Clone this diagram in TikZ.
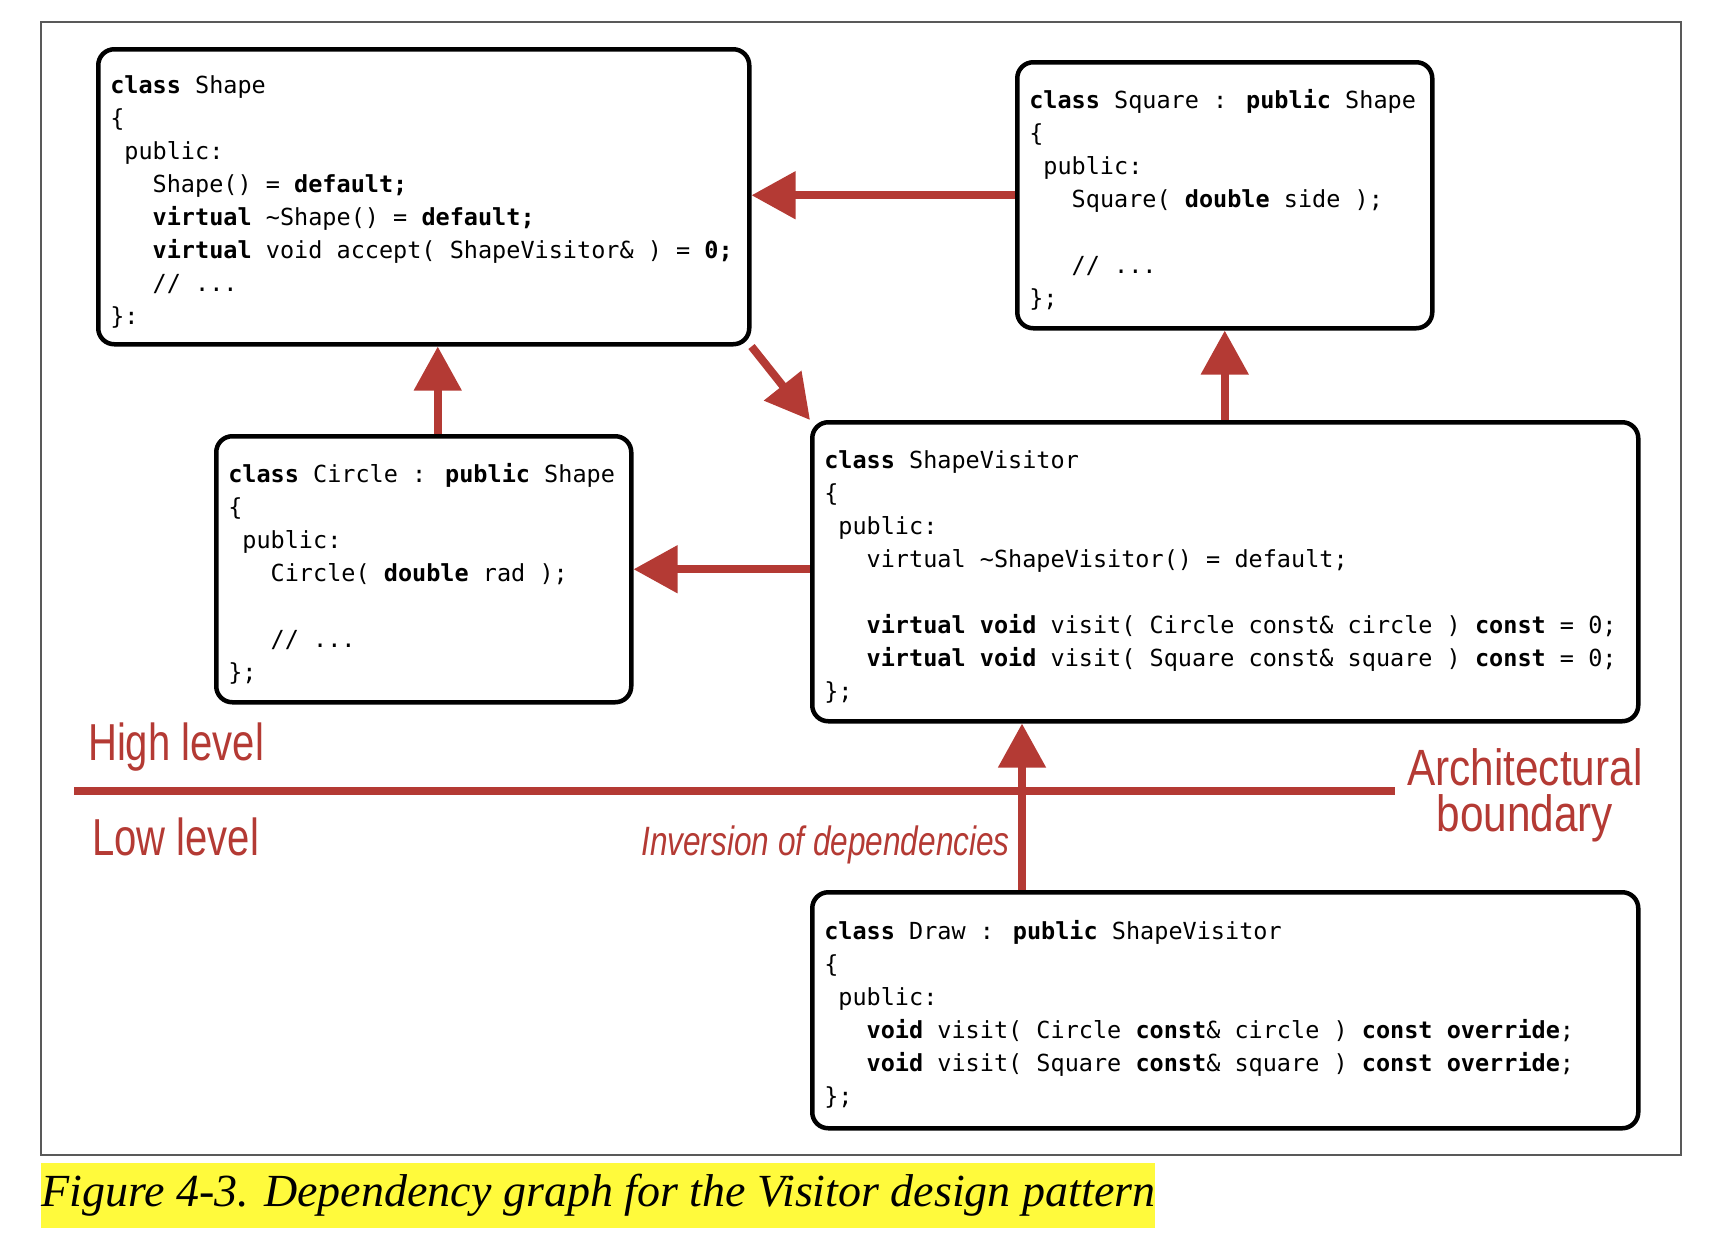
\documentclass[tikz,border=0pt]{standalone}
\usepackage{fontspec}
\usepackage{tikz}
\usetikzlibrary{arrows.meta}

\newfontfamily\codefont{DejaVu Sans Mono}
\newfontfamily\lblfont[FakeStretch=0.77]{Liberation Sans}
\newfontfamily\archfont[FakeStretch=0.83]{Liberation Sans}
\newfontfamily\capfont{Liberation Serif}

\definecolor{boundred}{RGB}{180,58,52}
\definecolor{capyellow}{RGB}{255,250,60}

% indent by n characters of the code font
\newcommand{\codeind}[1]{\hspace*{#1\fontcharwd\font`x}}
\newcommand{\kw}[1]{\textbf{#1}}

\tikzset{
  classbox/.style={draw, line width=4.5pt, rounded corners=16pt, anchor=north west,
    align=left, inner xsep=12pt, inner ysep=0pt,
    font=\codefont\fontsize{23.5}{33}\selectfont,
    % align=left sets a narrow \spaceskip: go back to the font's own space
    % (the strut pushes the code a little down in its box)
    execute at begin node={\spaceskip=0pt\xspaceskip=0pt\relax\rule{0pt}{28pt}}},
  dep/.style={draw=boundred, line width=8pt, -{Triangle[length=44pt,width=46pt]}},
  lbl/.style={text=boundred, font=\lblfont\fontsize{52}{44}\selectfont, inner sep=4pt},
}

\begin{document}
\begin{tikzpicture}[x=1pt, y=-1pt]
    % pixel coordinates, y going down
    \useasboundingbox (0,0) rectangle (1732,1250);
    \draw[black!65, line width=1.5pt] (41,22) rectangle (1681,1155);
    %
    \node[classbox, minimum height=295pt, text width=627pt] (shape) at (96,47) {%
      \kw{class} Shape\\
      \{\\
      \codeind{1}public:\\
      \codeind{3}Shape() = \kw{default;}\\
      \codeind{3}\kw{virtual} \textasciitilde Shape() = \kw{default;}\\
      \codeind{3}\kw{virtual} void accept( ShapeVisitor\& ) = \kw{0;}\\
      \codeind{3}// ...\\
      \}:};
    \node[classbox, minimum height=266pt, text width=391pt] (square) at (1015,60) {%
      \kw{class} Square : \kw{public} Shape\\
      \{\\
      \codeind{1}public:\\
      \codeind{3}Square( \kw{double} side );\\
      \mbox{}\\
      \codeind{3}// ...\\
      \};};
    \node[classbox, minimum height=266pt, text width=391pt] (circle) at (214,434) {%
      \kw{class} Circle : \kw{public} Shape\\
      \{\\
      \codeind{1}public:\\
      \codeind{3}Circle( \kw{double} rad );\\
      \mbox{}\\
      \codeind{3}// ...\\
      \};};
    \node[classbox, minimum height=299pt, text width=802pt] (visitor) at (810,420) {%
      \kw{class} ShapeVisitor\\
      \{\\
      \codeind{1}public:\\
      \codeind{3}virtual \textasciitilde ShapeVisitor() = default;\\
      \mbox{}\\
      \codeind{3}\kw{virtual void} visit( Circle const\& circle ) \kw{const} = 0;\\
      \codeind{3}\kw{virtual void} visit( Square const\& square ) \kw{const} = 0;\\
      \};};
    \node[classbox, minimum height=236pt, text width=802pt] (draw) at (810,890) {%
      \kw{class} Draw : \kw{public} ShapeVisitor\\
      \{\\
      \codeind{1}public:\\
      \codeind{3}\kw{void} visit( Circle \kw{const}\& circle ) \kw{const override};\\
      \codeind{3}\kw{void} visit( Square \kw{const}\& square ) \kw{const override};\\
      \};};
    %
    % architectural boundary
    \node[lbl, anchor=west, align=center, font=\archfont\fontsize{51}{46}\selectfont] (arch)
      at (1403,795) {Architectural\\boundary};
    \node[lbl, anchor=west] (high) at (84,747) {High level};
    \node[lbl, anchor=west] (low) at (88,837) {Low level};
    \coordinate (bleft) at (74,791);
    \draw[boundred, line width=8pt, shorten >=8pt] (bleft) -- (bleft -| arch.west);
    %
    \draw[dep] (square.west) -- (square.west -| shape.east);
    \draw[dep] (shape.south east) -- (visitor.north west);
    \draw[dep] ([xshift=14pt]circle.north) -- ([xshift=14pt]circle.north |- shape.south);
    \draw[dep] (visitor.north -| square.south) -- (square.south);
    \draw[dep] (visitor.west |- circle.east) -- (circle.east);
    \draw[dep] ([xshift=212pt]draw.north west) -- ([xshift=212pt]visitor.south west);
    \node[lbl, anchor=east, font=\lblfont\itshape\fontsize{41}{44}\selectfont] (inv)
      at (1014,845) {Inversion of dependencies};
    %
    \node[fill=capyellow, anchor=west, inner xsep=0pt, inner ysep=0pt, minimum height=65pt,
      font=\capfont\itshape\fontsize{46}{50}\selectfont] (caption) at (41,1195.5)
      {Figure 4-3. Dependency graph for the Visitor design pattern};
\end{tikzpicture}
\end{document}
